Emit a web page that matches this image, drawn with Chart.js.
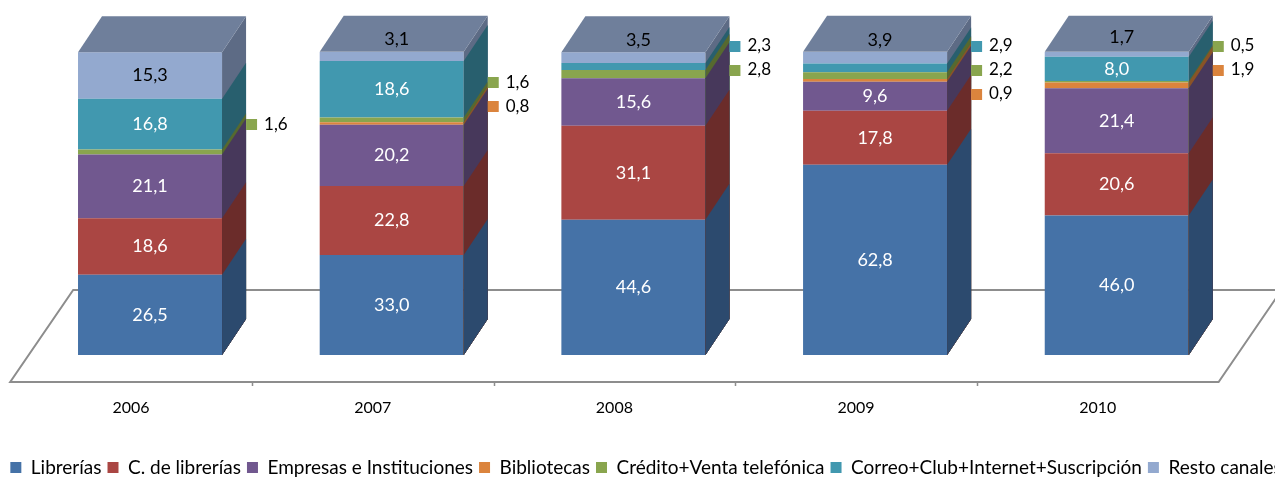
<!DOCTYPE html>
<html>
<head>
<meta charset="utf-8">
<script src="https://cdn.jsdelivr.net/npm/chart.js@4.4.1/dist/chart.umd.min.js"></script>
<style>
html,body{margin:0;padding:0;overflow:hidden;background:#fff;width:1275px;height:477px;}
#wrap{position:absolute;left:0;top:0;width:1292px;height:487px;}
</style>
</head>
<body>
<div id="wrap"><canvas id="c" width="1292" height="487"></canvas></div>
<script>
// ---- data ----
const years = ['2006', '2007', '2008', '2009', '2010'];
const seriesNames = ['Librerías', 'C. de librerías', 'Empresas e Instituciones', 'Bibliotecas',
  'Crédito+Venta telefónica', 'Correo+Club+Internet+Suscripción', 'Resto canales'];
const librerias    = [26.5, 33.0, 44.6, 62.8, 46.0];
const cLibrerias   = [18.6, 22.8, 31.1, 17.8, 20.6];
const empresas     = [21.1, 20.2, 15.6,  9.6, 21.4];
const bibliotecas  = [ 0.0,  0.8,  0.0,  0.9,  1.9];
const credito      = [ 1.6,  1.6,  2.8,  2.2,  0.5];
const correo       = [16.8, 18.6,  2.3,  2.9,  8.0];
const resto        = [15.3,  3.1,  3.5,  3.9,  1.7];
const seriesValues = [librerias, cLibrerias, empresas, bibliotecas, credito, correo, resto];

// ---- styles ----
const frontColors = ['#4572A7', '#AA4643', '#71588F', '#DB843D', '#89A54E', '#4198AF', '#93A9CF'];
const sideColors  = ['#2C4A6E', '#6B2C2A', '#47385B', '#8A5327', '#56692F', '#285F6E', '#5D6B85'];
const topColor = '#6F7F9B';
const DX = 24, DY = 36;            // bar depth
const FONT = 'Lato, "Noto Sans", sans-serif';

function fmt(v) { return v.toFixed(1).replace('.', ','); }

const threeD = {
  id: 'threeD',
  beforeDatasetsDraw(chart) {
    const ctx = chart.ctx;
    const {left, right, bottom} = chart.chartArea;
    const cw = (right - left) / years.length;
    const fy = bottom + 27, by = bottom - 65;
    const fx0 = left - 19, fx1 = right - 19, bx0 = left + 44, bx1 = right + 44;
    ctx.save();
    ctx.strokeStyle = '#8D8D8D';
    ctx.lineWidth = 2;
    ctx.lineJoin = 'miter';
    ctx.beginPath();
    ctx.moveTo(bx1, by); ctx.lineTo(bx0, by); ctx.lineTo(fx0, fy); ctx.lineTo(fx1, fy); ctx.lineTo(bx1, by);
    ctx.stroke();
    ctx.lineWidth = 1.5;
    ctx.beginPath();
    for (let k = 1; k < years.length; k++) {
      const x = Math.round(fx0 + k * cw) + 0.5;
      ctx.moveTo(x, fy); ctx.lineTo(x, fy + 4);
    }
    ctx.stroke();
    ctx.restore();
  },
  afterDatasetsDraw(chart) {
    const ctx = chart.ctx;
    const metas = chart.data.datasets.map((d, i) => chart.getDatasetMeta(i));
    const last = metas.length - 1;
    ctx.save();
    for (let j = 0; j < years.length; j++) {
      const baseEl = metas[0].data[j];
      const stackBase = baseEl.base;
      // side faces, from top segment downwards
      for (let i = last; i >= 0; i--) {
        const v = seriesValues[i][j];
        if (!v) continue;
        const el = metas[i].data[j];
        const r = el.x + el.width / 2;
        ctx.fillStyle = sideColors[i];
        ctx.beginPath();
        ctx.moveTo(r, stackBase);
        ctx.lineTo(r, el.y);
        ctx.lineTo(r + DX, el.y - DY);
        ctx.lineTo(r + DX, stackBase - DY);
        ctx.closePath();
        ctx.fill();
      }
      // top face
      const t = metas[last].data[j];
      const L = t.x - t.width / 2, R = t.x + t.width / 2, T = t.y;
      ctx.fillStyle = topColor;
      ctx.beginPath();
      ctx.moveTo(L, T); ctx.lineTo(R, T); ctx.lineTo(R + DX, T - DY); ctx.lineTo(L + DX, T - DY);
      ctx.closePath();
      ctx.fill();

      // labels
      ctx.textAlign = 'center';
      ctx.textBaseline = 'middle';
      const ext = [];
      for (let i = last; i >= 0; i--) {
        const v = seriesValues[i][j];
        if (!v) continue;
        const el = metas[i].data[j];
        const cy = (el.y + el.base) / 2;
        if (v >= 5) {
          ctx.font = '18px ' + FONT;
          ctx.fillStyle = i === last ? '#000000' : '#FFFFFF';
          ctx.fillText(fmt(v), el.x, cy);
        } else if (i === last) {
          ctx.font = '18px ' + FONT;
          ctx.fillStyle = '#000000';
          ctx.fillText(fmt(v), el.x + 5, cy - 17);
        } else {
          ext.push({i, v, ideal: cy - 27, x: el.x + el.width / 2 + DX});
        }
      }
      if (ext.length) {
        const gap = 24;
        const avg = ext.reduce((s, e) => s + e.ideal, 0) / ext.length;
        let ys = ext.map((e, k) => avg + (k - (ext.length - 1) / 2) * gap);
        const minTop = chart.chartArea.top - 6;
        if (ys[0] < minTop) { const sh = minTop - ys[0]; ys = ys.map(y => y + sh); }
        ctx.font = '17px ' + FONT;
        ctx.textAlign = 'left';
        ext.forEach((e, k) => {
          const y = ys[k];
          ctx.fillStyle = frontColors[e.i];
          ctx.fillRect(e.x, Math.round(y - 5.5), 11, 11);
          ctx.fillStyle = '#000000';
          ctx.fillText(fmt(e.v), e.x + 18, y);
        });
      }
    }
    ctx.restore();
  }
};

function build() {
  Chart.defaults.font.family = FONT;
  Chart.defaults.color = '#000000';
  new Chart(document.getElementById('c'), {
    type: 'bar',
    data: {
      labels: years,
      datasets: seriesNames.map((name, i) => ({
        label: name,
        data: seriesValues[i],
        backgroundColor: frontColors[i],
        borderColor: frontColors[i],
        borderWidth: 0,
        barPercentage: 0.596,
        categoryPercentage: 1.0
      }))
    },
    options: {
      responsive: false,
      animation: false,
      events: [],
      devicePixelRatio: 1,
      layout: {padding: {top: 52, left: 0, right: 0, bottom: 0}},
      plugins: {
        legend: {
          position: 'bottom',
          labels: {boxWidth: 11, boxHeight: 11, padding: 6, color: '#000000', font: {size: 19, family: FONT}}
        },
        tooltip: {enabled: false}
      },
      scales: {
        x: {
          stacked: true,
          grid: {display: false, drawTicks: false},
          border: {display: false},
          ticks: {color: '#000000', font: {size: 16, family: FONT}, padding: 43, labelOffset: -19, maxRotation: 0, autoSkip: false},
          afterFit(s) { s.height = 97; }
        },
        y: {
          stacked: true, min: 0, max: 100,
          grid: {display: false, drawTicks: false},
          border: {display: false},
          ticks: {display: false},
          afterFit(s) { s.width = 29.2; }
        },
        yR: {
          position: 'right', min: 0, max: 100,
          grid: {display: false, drawTicks: false},
          border: {display: false},
          ticks: {display: false},
          afterFit(s) { s.width = 54.4; }
        }
      }
    },
    plugins: [threeD]
  });
}
if (document.fonts && document.fonts.load) {
  Promise.all([document.fonts.load('17px Lato'), document.fonts.load('bold 17px Lato')]).then(build, build);
} else { build(); }
</script>
</body>
</html>
